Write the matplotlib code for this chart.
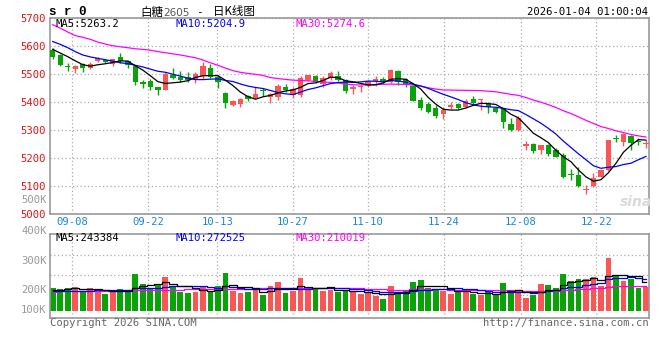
import matplotlib
matplotlib.use('Agg')
import matplotlib.pyplot as plt
import numpy as np
import pandas as pd

# ---------------- data ----------------
opens = [5586, 5568, 5528, 5518, 5535, 5520, 5545, 5550, 5536, 5560,
         5546, 5529, 5473, 5476, 5453, 5443, 5496, 5490, 5488, 5479,
         5493, 5520, 5490, 5432, 5390, 5393, 5421, 5413, 5443, 5419,
         5419, 5454, 5425, 5425, 5479, 5494, 5463, 5484, 5494, 5479,
         5445, 5455, 5457, 5476, 5481, 5473, 5511, 5481, 5458, 5407,
         5392, 5377, 5357, 5381, 5392, 5383, 5411, 5406, 5392, 5380,
         5377, 5320, 5300, 5244, 5249, 5229, 5246, 5229, 5211, 5143,
         5139, 5087, 5100, 5133, 5157, 5273, 5258, 5279, 5262, 5249]
highs = [5592, 5571, 5540, 5532, 5540, 5544, 5560, 5553, 5555, 5574,
         5550, 5532, 5479, 5481, 5455, 5508, 5520, 5512, 5508, 5508,
         5544, 5534, 5495, 5435, 5407, 5414, 5425, 5452, 5449, 5432,
         5464, 5464, 5452, 5494, 5498, 5498, 5494, 5509, 5510, 5481,
         5461, 5461, 5479, 5493, 5488, 5519, 5513, 5486, 5460, 5419,
         5401, 5389, 5383, 5400, 5398, 5412, 5421, 5409, 5399, 5382,
         5380, 5344, 5350, 5261, 5252, 5248, 5250, 5235, 5219, 5160,
         5169, 5104, 5148, 5160, 5266, 5282, 5290, 5282, 5270, 5264]
lows = [5555, 5528, 5512, 5502, 5508, 5518, 5542, 5540, 5530, 5538,
        5523, 5461, 5449, 5443, 5424, 5443, 5481, 5473, 5472, 5467,
        5481, 5484, 5449, 5380, 5386, 5382, 5405, 5410, 5423, 5395,
        5407, 5437, 5413, 5419, 5476, 5467, 5455, 5479, 5475, 5433,
        5429, 5437, 5455, 5457, 5463, 5468, 5461, 5452, 5402, 5371,
        5360, 5342, 5338, 5374, 5375, 5377, 5393, 5370, 5360, 5360,
        5308, 5298, 5298, 5229, 5217, 5214, 5207, 5202, 5127, 5121,
        5098, 5071, 5095, 5131, 5155, 5258, 5244, 5229, 5246, 5235]
closes = [5562, 5532, 5524, 5529, 5520, 5535, 5557, 5542, 5552, 5548,
          5532, 5473, 5464, 5452, 5443, 5499, 5485, 5477, 5477, 5500,
          5529, 5490, 5473, 5397, 5404, 5412, 5410, 5427, 5440, 5429,
          5457, 5444, 5445, 5487, 5496, 5470, 5487, 5503, 5479, 5440,
          5452, 5458, 5475, 5481, 5476, 5515, 5470, 5463, 5404, 5380,
          5365, 5351, 5371, 5389, 5380, 5402, 5398, 5408, 5383, 5365,
          5327, 5300, 5342, 5249, 5225, 5246, 5213, 5205, 5131, 5139,
          5100, 5089, 5127, 5157, 5264, 5269, 5286, 5252, 5257, 5255]
volumes = [197, 186, 197, 206, 163, 197, 169, 146, 157, 186,
           169, 317, 232, 186, 220, 292, 215, 163, 154, 163,
           203, 169, 212, 326, 172, 154, 163, 177, 134, 215,
           249, 154, 169, 283, 183, 183, 172, 177, 163, 177,
           172, 143, 154, 126, 100, 212, 163, 177, 246, 263,
           197, 186, 172, 143, 163, 163, 143, 134, 163, 134,
           237, 163, 177, 112, 134, 229, 220, 197, 315, 255,
           272, 272, 289, 215, 455, 297, 255, 269, 197, 200]  # thousands

# moving-average values before enough history is visible
ma5_head = [5588, 5575, 5562, 5547]
ma10_head = [5616, 5606, 5594, 5580, 5568, 5561, 5556, 5551, 5546]
ma30_head = [5676, 5664, 5650, 5637, 5631, 5624, 5614, 5607, 5601, 5597,
             5594, 5590, 5588, 5585, 5580, 5576, 5572, 5568, 5563, 5558,
             5550, 5540, 5531, 5521, 5512, 5506, 5502, 5499, 5495]
vma5_head = [175, 180, 186, 192]
vma10_head = [168, 168, 169, 170, 171, 172, 174, 176, 178]
vma30_head = [164, 165, 166, 167, 168, 169, 170, 171, 172, 173,
              174, 175, 176, 177, 178, 179, 180, 181, 182, 183,
              184, 185, 186, 187, 188, 189, 190, 191, 192]

price_ticks = [5000, 5100, 5200, 5300, 5400, 5500, 5600, 5700]
date_labels = ['09-08', '09-22', '10-13', '10-27', '11-10', '11-24', '12-08', '12-22']
vol_labels = ['400K', '300K', '200K', '100K']
legend_main = ['MA5:5263.2', 'MA10:5204.9', 'MA30:5274.6']
legend_vol = ['MA5:243384', 'MA10:272525', 'MA30:210019']

# ---------------- layout ----------------
W, H = 660, 360
fig = plt.figure(figsize=(6.6, 3.6), dpi=100)
fig.patch.set_facecolor('white')


def rect(l, t, r, b):
    return [l / W, 1 - b / H, (r - l) / W, (b - t) / H]


def fx(px):
    return px / W


def fy(py):
    return 1 - py / H


MONO = 'DejaVu Sans Mono'
RED = '#fb5656'
GREEN = '#07a307'
BLUE_TXT = '#1a86d6'
GRID = dict(color='#aaaaaa', linestyle=(0, (1, 2)), linewidth=0.9)
SPINE = '#999999'

n = len(closes)
x = np.arange(n)
o = np.array(opens, float)
c = np.array(closes, float)
hi = np.array(highs, float)
lo = np.array(lows, float)
up = c >= o
cols = [RED if u else GREEN for u in up]

# x positions of the date grid lines (candle index units)
date_pos = [2.6, 12.7, 21.9, 32.0, 42.0, 52.1, 62.3, 72.4]
XL = (-0.36, 79.4)


def ma_series(vals, win, head):
    s = pd.Series(vals, dtype=float).rolling(win).mean().to_numpy()
    s[:len(head)] = head
    return s


ma5 = ma_series(closes, 5, ma5_head)
ma10 = ma_series(closes, 10, ma10_head)
ma30 = ma_series(closes, 30, ma30_head)
vol = np.array(volumes, float) * 1000
vma5 = ma_series(vol, 5, np.array(vma5_head) * 1000)
vma10 = ma_series(vol, 10, np.array(vma10_head) * 1000)
vma30 = ma_series(vol, 30, np.array(vma30_head) * 1000)

# ---------------- main price axes ----------------
ax = fig.add_axes(rect(50, 18, 649, 214))
ax.set_xlim(*XL)
ax.set_ylim(5000, 5700)
ax.set_axisbelow(True)
for s in ax.spines.values():
    s.set_color(SPINE)
    s.set_linewidth(1.2)
ax.set_yticks(price_ticks)
ax.set_yticklabels([str(p) for p in price_ticks], color='#e01414',
                   fontfamily=MONO, fontsize=7.6)
ax.set_xticks(date_pos)
ax.set_xticklabels(date_labels, color=BLUE_TXT, fontfamily=MONO, fontsize=7.6)
ax.tick_params(length=0, pad=3)
ax.tick_params(axis='x', pad=2.5)
ax.grid(True, **GRID)

ax.vlines(x, lo, hi, colors=cols, linewidth=1.0, zorder=2)
body_bottom = np.minimum(o, c)
body_h = np.maximum(np.abs(c - o), 3.6)
ax.bar(x, body_h, bottom=body_bottom, width=0.72, color=cols, linewidth=0, zorder=3)

ax.plot(x, ma30, color='#ff00ff', lw=0.9, zorder=4)
ax.plot(x, ma10, color='#0000ff', lw=0.9, zorder=4)
ax.plot(x, ma5, color='black', lw=0.9, zorder=4)

# ---------------- volume axes ----------------
vax = fig.add_axes(rect(50, 234.3, 649, 318.3))
VPX = 8580.0     # volume units per pixel
base_px = 310.7  # pixel row of zero volume
vax.set_xlim(*XL)
vax.set_ylim(-(318.3 - base_px) * VPX, (base_px - 234.3) * VPX)
vax.set_axisbelow(True)
for s in vax.spines.values():
    s.set_color(SPINE)
    s.set_linewidth(1.2)
vax.set_xticks(date_pos)
vax.set_xticklabels([])
vax.set_yticks([(base_px - py) * VPX for py in (255.3, 275.3, 295.3)])
vax.set_yticklabels([])
vax.tick_params(length=0)
vax.grid(True, **GRID)
vax.bar(x, vol, width=0.77, color=cols, linewidth=0, zorder=2)
vax.plot(x, vma30, color='#ff00ff', lw=0.9, drawstyle='steps-mid', zorder=3)
vax.plot(x, vma10, color='#0000ff', lw=0.9, drawstyle='steps-mid', zorder=3)
vax.plot(x, vma5, color='black', lw=0.9, drawstyle='steps-mid', zorder=3)

# ---------------- texts ----------------
fig.text(fx(49), fy(12), 's r 0', fontfamily='Liberation Mono', fontweight='bold',
         fontsize=9, va='center', ha='left', color='black')
fig.text(fx(140), fy(12), '白糖', fontfamily=['Noto Sans CJK SC', 'DejaVu Sans'],
         fontsize=8.3, va='center', ha='left', color='black')
fig.text(fx(163), fy(12.5), '2605', fontfamily='DejaVu Sans', fontsize=7.5,
         va='center', ha='left', color='#555555')
fig.text(fx(196), fy(12), '-', fontfamily=MONO, fontsize=8,
         va='center', ha='left', color='black')
fig.text(fx(213), fy(12), '日K线图', fontfamily=['Noto Sans CJK SC', 'DejaVu Sans'],
         fontsize=8.3, va='center', ha='left', color='black')
fig.text(fx(648), fy(12), '2026-01-04 01:00:04', fontfamily=MONO, fontsize=7.6,
         va='center', ha='right', color='black')

for txt, px, col in zip(legend_main, (55, 175, 295), ('black', '#0000ff', '#ff00ff')):
    fig.text(fx(px), fy(24), txt, fontfamily=MONO, fontsize=7.6, va='center',
             ha='left', color=col)
for txt, px, col in zip(legend_vol, (55, 175, 295), ('black', '#0000ff', '#ff00ff')):
    fig.text(fx(px), fy(238.3), txt, fontfamily=MONO, fontsize=7.6, va='center',
             ha='left', color=col)

for txt, py in zip(vol_labels, (230.7, 260.7, 290.0, 310.0)):
    fig.text(fx(46.5), fy(py), txt, fontfamily=MONO, fontsize=7.6, va='center',
             ha='right', color='#999999')
fig.text(fx(46.5), fy(200), '500K', fontfamily=MONO, fontsize=7.6, va='center',
         ha='right', color='#999999')

fig.text(fx(50), fy(323.5), 'Copyright 2026 SINA.COM', fontfamily=MONO, fontsize=7.6,
         va='center', ha='left', color='#666666')
fig.text(fx(649), fy(323.5), 'http://finance.sina.com.cn', fontfamily=MONO,
         fontsize=7.6, va='center', ha='right', color='#666666')

# faint watermark
fig.text(fx(636), fy(202), 'sina', fontfamily='DejaVu Sans', fontstyle='italic',
         fontweight='bold', fontsize=10, va='center', ha='center', color='#d9d9d9',
         zorder=0)

fig.savefig('out.png', dpi=100, facecolor='white')
